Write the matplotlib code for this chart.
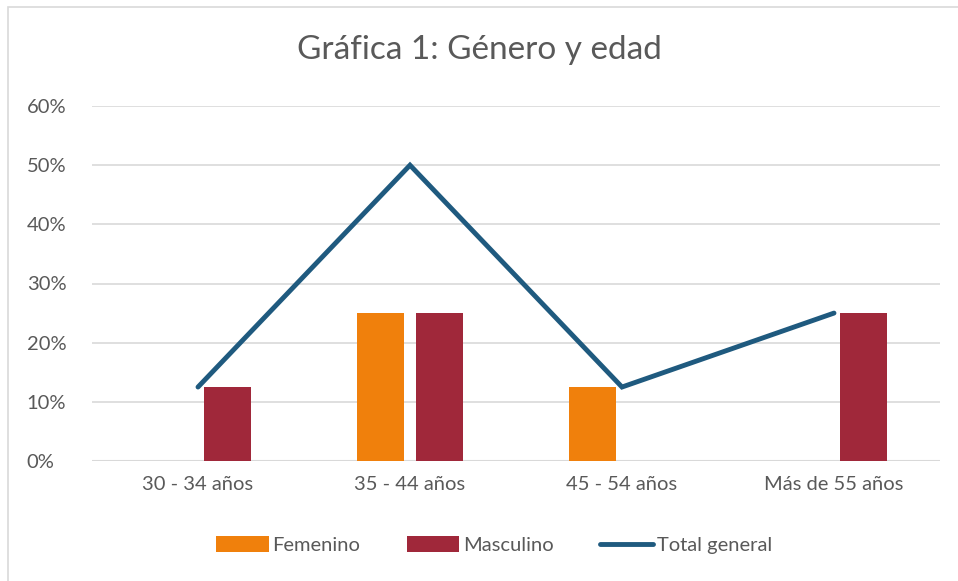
import numpy as np
import matplotlib
matplotlib.use("Agg")
from matplotlib import pyplot as plt
from matplotlib.patches import Rectangle
from matplotlib.ticker import PercentFormatter

categories = ["30 - 34 años", "35 - 44 años", "45 - 54 años", "Más de 55 años"]
femenino = [np.nan, 0.25, 0.125, np.nan]
masculino = [0.125, 0.25, np.nan, 0.25]
total = [0.125, 0.50, 0.125, 0.25]

c_fem = "#F0800C"
c_mas = "#A0283A"
c_tot = "#1F5A7F"
c_txt = "#595959"

plt.rcParams["font.family"] = ["Lato", "DejaVu Sans"]

W, H = 958, 581
fig = plt.figure(figsize=(W / 100, H / 100), dpi=100)
ax = fig.add_axes([92 / W, 1 - 461 / H, (940 - 92) / W, (461 - 106) / H])

# outer chart border (only left/top visible in the original)
fig.patches.append(Rectangle((8 / W, -0.1), 1.2, 1 - 7 / H + 0.1, transform=fig.transFigure,
                             fill=False, edgecolor="#D9D9D9", linewidth=1.2))

x = np.arange(len(categories))
bw = 0.22
off = 0.14
b1 = ax.bar(x - off, femenino, bw, color=c_fem, label="Femenino", zorder=3)
b2 = ax.bar(x + off, masculino, bw, color=c_mas, label="Masculino", zorder=3)
l1, = ax.plot(x, total, color=c_tot, linewidth=3.5, solid_capstyle="round",
              solid_joinstyle="miter", label="Total general", zorder=4)

ax.set_xlim(-0.5, len(categories) - 0.5)
ax.set_ylim(0, 0.6)
ax.set_yticks(np.arange(0, 0.61, 0.1))
ax.yaxis.set_major_formatter(PercentFormatter(1.0, decimals=0))
ax.set_xticks(x)
ax.set_xticklabels(categories)
ax.tick_params(axis="both", length=0, labelsize=14.5, colors=c_txt)
ax.tick_params(axis="x", pad=11)
for lab in ax.get_yticklabels():
    lab.set_horizontalalignment("left")
ax.yaxis.set_tick_params(pad=47)
ax.grid(axis="y", color="#D9D9D9", linewidth=1.2, zorder=0)
for s in ax.spines.values():
    s.set_visible(False)
ax.axhline(0, color="#D9D9D9", linewidth=1.5, zorder=2)

fig.text(0.5, 1 - 50 / H, "Gráfica 1: Género y edad", ha="center", va="center",
         fontsize=24, color=c_txt)

leg = fig.legend([b1, b2, l1], ["Femenino", "Masculino", "Total general"],
                 loc="center", bbox_to_anchor=(494 / W, 1 - 545 / H), ncol=3, frameon=False,
                 fontsize=14.5, handlelength=2.6, handleheight=0.8, columnspacing=2.3,
                 handletextpad=0.2)
for t in leg.get_texts():
    t.set_color(c_txt)

fig.savefig("out.png", dpi=100)
